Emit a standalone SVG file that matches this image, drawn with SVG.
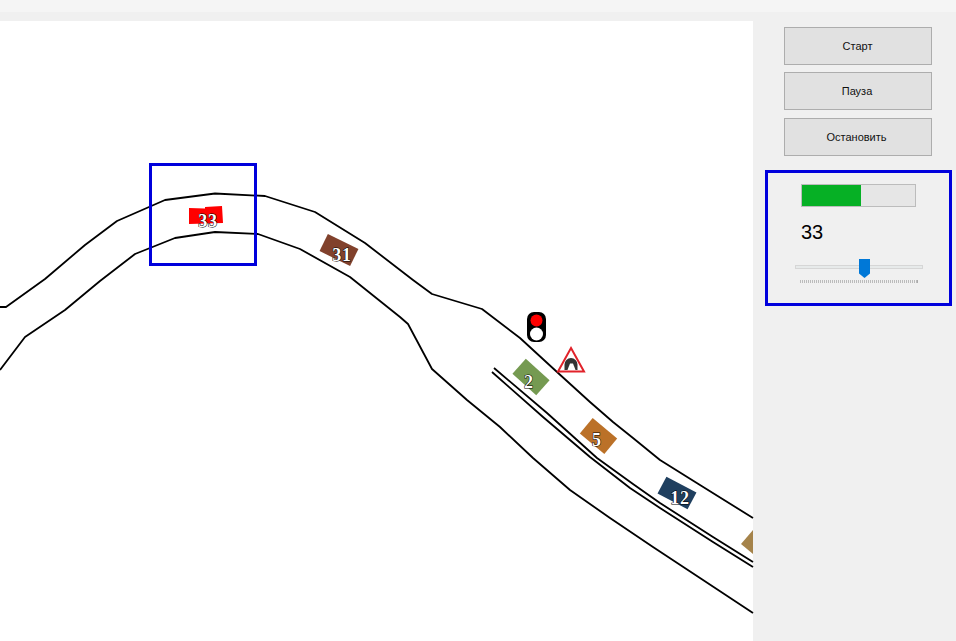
<svg xmlns="http://www.w3.org/2000/svg" width="956" height="641" viewBox="0 0 956 641">
<style>
.road{fill:none;stroke:#000;stroke-width:1.8;stroke-linejoin:round}
.sel{fill:none;stroke:#0000dc;stroke-width:3}
.btn{fill:#e1e1e1;stroke:#adadad;stroke-width:1}
.bt{font-family:"Liberation Sans",Arial,sans-serif;font-size:11px;fill:#111;text-anchor:middle}
.car{font-family:"Liberation Serif","Times New Roman",serif;font-size:18px;font-weight:bold;fill:#fff;text-anchor:middle;letter-spacing:.8px;stroke:#000;stroke-width:1;paint-order:stroke}
</style>
<rect width="956" height="641" fill="#f0f0f0"/>
<rect width="956" height="12" fill="#f5f5f5"/>
<rect x="0" y="21" width="753" height="620" fill="#fff"/>
<g id="connectors">
<path class="road" d="M0 307L6 307L45 279L85 245L117 221L165 200L215 193.500L265 196L315 212L365 243L413 280L432 294L482 309L520 338L557 372L590 402L613 422L633 438L660 460L700 485L753 518"/>
<path class="road" d="M0 370L25 337L65 310L100 281L135 254L175 238L215 232L258 234L300 249L350 277L400 317L408 324L432 369L467 400L500 427L533 458L570 490L610 518L653 547L700 578L753 613"/>
<path class="road" d="M494 368L547 413L597 458L633 484L660 503L713 537L753 562"/>
<path class="road" d="M492 372L543 417L590 457L630 488L660 508L713 542L753 567"/>
</g>
<g id="car-33"><path d="M189 208L205 208.500L205 207L222 206L223 223L189 224Z" fill="#f00"/><text class="car" x="208" y="227">33</text></g>
<g id="car-31"><rect x="-17" y="-9.500" width="34" height="19" fill="#81412c" transform="translate(339 250) rotate(26)"/><text class="car" x="342" y="261">31</text></g>
<g id="car-2"><rect x="-16" y="-10" width="32" height="20" fill="#759a51" transform="translate(531 377) rotate(42)"/><text class="car" x="529" y="388">2</text></g>
<g id="car-5"><rect x="-16" y="-10" width="32" height="20" fill="#bb7128" transform="translate(598.500 436) rotate(40)"/><text class="car" x="597" y="446">5</text></g>
<g id="car-12"><rect x="-17" y="-9.500" width="34" height="19" fill="#1f3f5f" transform="translate(677 493) rotate(28)"/><text class="car" x="680" y="504">12</text></g>
<g id="car-edge"><path d="M753 530L741 544L753 554Z" fill="#a5834a"/></g>
<g id="traffic-light"><rect x="527" y="312" width="19" height="30" rx="7" fill="#000"/><circle cx="536.500" cy="320.500" r="6" fill="#f00"/><circle cx="536.500" cy="334" r="6.500" fill="#fff"/></g>
<g id="tunnel-sign"><path d="M571 348L584 371.500L558 371.500Z" fill="#fff" stroke="#e1222a" stroke-width="2"/><path d="M564.500 370V364.500A6.500 6.500 0 0 1 577.500 364.500V370Z" fill="#333"/><path d="M567.500 370L570 363.500H573L575.500 370Z" fill="#fff"/></g>
<g id="zone"><rect class="sel" x="150.500" y="164.500" width="105" height="100"/></g>
<g id="btn-start"><rect class="btn" x="784.500" y="27.500" width="147" height="37"/><text class="bt" x="857.500" y="50">Старт</text></g>
<g id="btn-pause"><rect class="btn" x="784.500" y="72.500" width="147" height="37"/><text class="bt" x="857" y="95">Пауза</text></g>
<g id="btn-stop"><rect class="btn" x="784.500" y="118.500" width="147" height="37"/><text class="bt" x="856.500" y="141">Остановить</text></g>
<g id="panel">
<rect class="sel" x="766.500" y="171.500" width="184" height="133"/>
<rect x="801.500" y="184.500" width="114" height="22" fill="#e6e6e6" stroke="#bcbcbc"/>
<rect x="802" y="185" width="59" height="21" fill="#06b025"/>
<text x="801" y="239" font-family="'Liberation Sans',Arial,sans-serif" font-size="20" fill="#000">33</text>
<rect x="795.500" y="265.500" width="127" height="3" fill="#e7eaea" stroke="#d6d6d6"/>
<path d="M859 259H870V273.500L864.500 278L859 273.500Z" fill="#0078d7"/>
<path d="M800.500 280V283M917.500 280V283" stroke="#aaa" fill="none"/>
<path d="M800 281.500H918" stroke="#bbb" stroke-width="3" stroke-dasharray="1 1" fill="none"/>
</g>
</svg>
